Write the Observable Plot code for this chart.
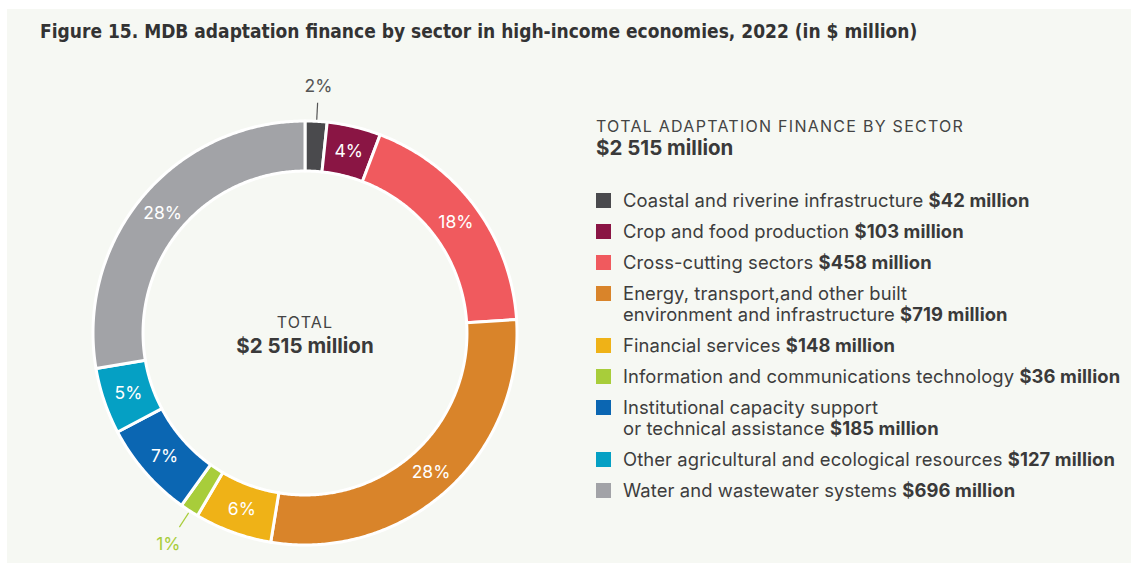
<!DOCTYPE html>
<html>
<head>
<meta charset="utf-8">
<script src="https://cdn.jsdelivr.net/npm/d3@7"></script>
<script src="https://cdn.jsdelivr.net/npm/@observablehq/plot@0.6"></script>
<style>
  html, body { margin: 0; padding: 0; background: #ffffff; }
  #wrap { position: relative; width: 1131px; height: 565px; overflow: hidden; font-family: Inter, Roboto, sans-serif; color: #3d3d3d; }
  #panel { position: absolute; left: 7px; top: 9px; right: 0; bottom: 2px; background: #f6f8f3; }
  #title { position: absolute; left: 40px; top: 20px; font-family: "DejaVu Sans Condensed", sans-serif; font-weight: bold; font-size: 19px; color: #333; white-space: nowrap; }
  #chart { position: absolute; left: 0; top: 70px; }
  #center { position: absolute; left: 155px; width: 300px; top: 311px; text-align: center; }
  #center .k { font-size: 16px; letter-spacing: 1.2px; color: #444; line-height: 22px; }
  #center .v { font-size: 20.5px; font-weight: bold; color: #3a3a3a; line-height: 25px; }
  #legend { position: absolute; left: 596px; top: 115px; }
  #legend .hk { font-size: 16px; letter-spacing: 1.27px; color: #444; line-height: 22px; white-space: nowrap; }
  #legend .hv { font-size: 20.5px; font-weight: bold; color: #3a3a3a; line-height: 22px; margin-bottom: 30.5px; white-space: nowrap; }
  #legend .row { position: relative; padding-left: 27px; font-size: 18.4px; letter-spacing: 0.1px; line-height: 21px; margin-bottom: 10px; white-space: nowrap; }
  #legend .ln { display: block; height: 21px; }
  #legend .sw { position: absolute; left: 0; top: 3px; width: 15px; height: 15px; }
  #legend b { color: #3a3a3a; }
</style>
</head>
<body>
<div id="wrap">
  <div id="panel"></div>
  <div id="title">Figure 15. MDB adaptation finance by sector in high-income economies, 2022 (in $ million)</div>
  <div id="chart"></div>
  <div id="center"><div class="k">TOTAL</div><div class="v">$2 515 million</div></div>
  <div id="legend"></div>
</div>
<script>
// ---- Data ----
const sectors = [
  "Coastal and riverine infrastructure",
  "Crop and food production",
  "Cross-cutting sectors",
  "Energy, transport,and other built\nenvironment and infrastructure",
  "Financial services",
  "Information and communications technology",
  "Institutional capacity support\nor technical assistance",
  "Other agricultural and ecological resources",
  "Water and wastewater systems"
];
const values = [42, 103, 458, 719, 148, 36, 185, 127, 696];
const percentLabels = ["2%", "4%", "18%", "28%", "6%", "1%", "7%", "5%", "28%"];
const colors = ["#4a4a4d", "#8a1544", "#f05a5e", "#d9842a", "#efb217", "#a8cd3a", "#0b66b2", "#05a0c4", "#a2a3a7"];
const outsideLabel = [true, false, false, false, false, true, false, false, false];
const totalLabel = "$2 515 million";

// ---- Geometry built from data ----
const total = d3.sum(values);
const inner = 0.764;
const labelR = 0.882;
const arcPts = [];
const labels = [];
const leaders = [];
let cum = 0;
values.forEach((v, i) => {
  const a0 = cum / total * 2 * Math.PI;
  const a1 = (cum + v) / total * 2 * Math.PI;
  const n = Math.max(2, Math.ceil((a1 - a0) / (Math.PI / 360)) + 1);
  for (let k = 0; k < n; k++) {
    const a = a0 + (a1 - a0) * k / (n - 1);
    arcPts.push({sector: sectors[i], ix: inner * Math.sin(a), iy: inner * Math.cos(a), ox: Math.sin(a), oy: Math.cos(a)});
  }
  const am = (a0 + a1) / 2;
  if (outsideLabel[i]) {
    const lr = i === 0 ? 1.165 : 1.185;
    const c = i === 0 ? "#555555" : "#a8cd3a";
    labels.push({text: percentLabels[i], x: lr * Math.sin(am), y: lr * Math.cos(am), color: c});
    leaders.push({x1: 1.01 * Math.sin(am), y1: 1.01 * Math.cos(am), x2: 1.09 * Math.sin(am), y2: 1.09 * Math.cos(am), color: c});
  } else {
    labels.push({text: percentLabels[i], x: labelR * Math.sin(am), y: labelR * Math.cos(am), color: "#ffffff"});
  }
  cum += v;
});

const cx = 305, cy = 263, R = 212;
const plot = Plot.plot({
  width: 560,
  height: 500,
  margin: 0,
  style: {background: "transparent", overflow: "visible"},
  x: {domain: [-1, 1], range: [cx - R, cx + R], axis: null},
  y: {domain: [-1, 1], range: [cy + R, cy - R], axis: null},
  color: {domain: sectors, range: colors},
  marks: [
    Plot.area(arcPts, {x1: "ix", y1: "iy", x2: "ox", y2: "oy", z: "sector", fill: "sector", stroke: "#ffffff", strokeWidth: 3, curve: "linear"}),
    Plot.link(leaders, {x1: "x1", y1: "y1", x2: "x2", y2: "y2", stroke: d => d.color, strokeWidth: 1.2}),
    Plot.text(labels, {x: "x", y: "y", text: "text", fill: d => d.color, fontSize: 17.5, fontFamily: "Inter, Roboto, sans-serif"})
  ]
});
document.getElementById("chart").appendChild(plot);

// ---- Legend ----
const leg = document.getElementById("legend");
leg.innerHTML = `<div class="hk">TOTAL ADAPTATION FINANCE BY SECTOR</div><div class="hv">${totalLabel}</div>`;
sectors.forEach((s, i) => {
  const row = document.createElement("div");
  row.className = "row";
  const sw = document.createElement("span");
  sw.className = "sw";
  sw.style.background = colors[i];
  row.appendChild(sw);
  const lines = s.split("\n");
  lines.forEach((t, j) => {
    const ln = document.createElement("span");
    ln.className = "ln";
    ln.appendChild(document.createTextNode(t + (j === lines.length - 1 ? " " : "")));
    if (j === lines.length - 1) {
      const b = document.createElement("b");
      b.textContent = `$${values[i]} million`;
      ln.appendChild(b);
    }
    row.appendChild(ln);
  });
  leg.appendChild(row);
});
</script>
</body>
</html>
